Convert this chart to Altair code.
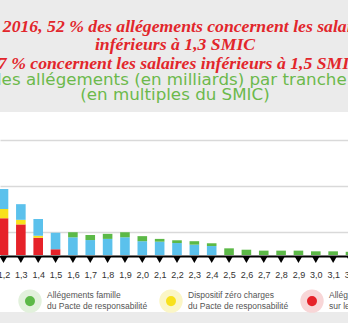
import altair as alt
import pandas as pd

# categories (multiples du SMIC)
cats = [1.2, 1.3, 1.4, 1.5, 1.6, 1.7, 1.8, 1.9, 2.0, 2.1, 2.2, 2.3, 2.4,
        2.5, 2.6, 2.7, 2.8, 2.9, 3.0, 3.1, 3.2]
# series values (milliards)
red = [1.60, 1.33, 0.75, 0.25, 0, 0, 0, 0, 0, 0, 0, 0, 0, 0, 0, 0, 0, 0, 0, 0, 0]
yellow = [0.40, 0.20, 0.09, 0, 0, 0, 0, 0, 0, 0, 0, 0, 0, 0, 0, 0, 0, 0, 0, 0, 0]
blue = [0.87, 0.68, 0.73, 0.72, 0.77, 0.65, 0.70, 0.77, 0.60, 0.58, 0.52, 0.45, 0.39,
        0, 0, 0, 0, 0, 0, 0, 0]
green = [0, 0, 0, 0, 0.22, 0.22, 0.22, 0.22, 0.22, 0.12, 0.12, 0.15, 0.12,
         0.29, 0.23, 0.19, 0.19, 0.19, 0.16, 0.16, 0.14]

names = ["Allégements famille|du Pacte de responsabilité",
         "Dispositif zéro charges|du Pacte de responsabilité",
         "Allégements généraux|sur les bas salaires",
         "CICE|(crédit d'impôt compétitivité emploi)"]
colors = ["#5cb947", "#f8e11c", "#e62229", "#5bc1ec"]
halos = ["#e2f1dc", "#fbf6c6", "#f8d6d7", "#dbeff9"]

series = [(names[2], red, 0), (names[1], yellow, 1), (names[3], blue, 2), (names[0], green, 3)]
rows = []
for i, c in enumerate(cats):
    for name, vals, o in series:
        if vals[i] > 0:
            rows.append({"tranche": c, "serie": name, "valeur": vals[i], "ordre": o})
df = pd.DataFrame(rows)
ticks_df = pd.DataFrame({"tranche": cats})

W, H = 352, 200
xscale = alt.Scale(domain=[1.1798, 3.2087], nice=False, zero=False, padding=0)
yscale = alt.Scale(domain=[-2.478, 6.217], nice=False, zero=False, padding=0)
cscale = alt.Scale(domain=names, range=colors)
sscale = alt.Scale(domain=names, range=halos)

leg_opts = dict(orient="none", legendX=18, legendY=177, direction="horizontal", columns=4,
                symbolType="circle", symbolSize=279, symbolStrokeWidth=6.7,
                labelExpr="split(datum.label, '|')", labelFont="Liberation Sans",
                labelFontSize=8.5, labelColor="#555555", labelOffset=5, columnPadding=1,
                labelBaseline="line-bottom",
                padding=0, title=None, symbolOpacity=1)

bars = alt.Chart(df).mark_bar(size=9.6, clip=True).encode(
    x=alt.X("tranche:Q", scale=xscale,
            axis=alt.Axis(values=cats, labelExpr="replace(format(datum.value, '.1f'), '.', ',')",
                          grid=False, ticks=False, tickSize=0, tickCount=40,
                          domainColor="black", domainWidth=2,
                          offset=-56, labelPadding=14, labelFontSize=9, labelColor="#333333",
                          labelFont="Liberation Sans", labelOverlap=False, labelFlush=False,
                          title=None, zindex=1)),
    y=alt.Y("valeur:Q", stack="zero", scale=yscale,
            axis=alt.Axis(values=[1, 2, 3, 4, 5, 6], grid=True, gridColor="#d9d9d9", gridWidth=1.5,
                          labels=False, ticks=False, domain=False, title=None)),
    color=alt.Color("serie:N", scale=cscale, legend=alt.Legend(**leg_opts)),
    order=alt.Order("ordre:Q", sort="ascending"),
)

tri = alt.Chart(ticks_df).mark_point(shape="triangle-down", filled=True, color="black",
                                     size=64, yOffset=4.5, clip=True, opacity=1).encode(
    x=alt.X("tranche:Q", scale=xscale),
    y=alt.datum(0),
)

leg = alt.Chart(df).transform_filter("false").mark_point(filled=True, shape="circle", opacity=1).encode(
    x=alt.X("tranche:Q", scale=xscale),
    y=alt.Y("valeur:Q", scale=yscale),
    color=alt.Color("serie:N", scale=cscale, legend=alt.Legend(**leg_opts)),
    stroke=alt.Stroke("serie:N", scale=sscale, legend=alt.Legend(**leg_opts)),
)

chart = alt.layer(bars, tri, leg).properties(
    width=W, height=H,
    autosize=alt.AutoSizeParams(type="none"),
    padding={"left": 0, "top": 112, "right": -4, "bottom": 11},
    background="#ebebeb",
    title=alt.TitleParams(
        text=["En 2016, 52 % des allégements concernent les salaires",
              "inférieurs à 1,3 SMIC",
              "67 % concernent les salaires inférieurs à 1,5 SMIC"],
        subtitle=["Montant des allégements (en milliards) par tranche de salaire",
                  "(en multiples du SMIC)"],
        font="Liberation Serif", fontStyle="italic", fontWeight="bold", fontSize=17.7,
        color="#e2262b", lineHeight=18.5,
        subtitleFont="DejaVu Sans", subtitleFontSize=16.7, subtitleColor="#6cb94b",
        subtitleLineHeight=15, subtitlePadding=0, anchor="middle", offset=8, dx=-1),
).configure_view(fill="white", strokeWidth=0)

chart.save("out.html", embed_options={"renderer": "svg", "actions": False})
